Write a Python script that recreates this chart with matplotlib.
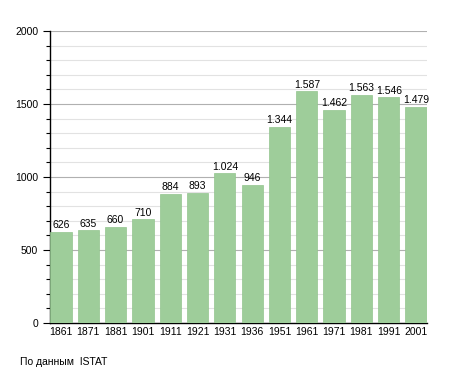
import matplotlib.pyplot as plt
from matplotlib.ticker import MultipleLocator

# Dati
anni = ['1861', '1871', '1881', '1901', '1911', '1921', '1931', '1936',
        '1951', '1961', '1971', '1981', '1991', '2001']
abitanti = [626, 635, 660, 710, 884, 893, 1024, 946,
            1344, 1587, 1462, 1563, 1546, 1479]
fonte = 'По данным  ISTAT'

plt.rcParams['font.family'] = ['Liberation Sans', 'DejaVu Sans']

fig = plt.figure(figsize=(4.55, 3.73), dpi=100)
ax = fig.add_axes([50 / 455, 50 / 373, 377 / 455, 292 / 373])

pos = list(range(len(anni)))
ax.bar(pos, abitanti, width=0.78, color='#9ecd9a', edgecolor='#92c48e',
       linewidth=0.5, zorder=3)

# etichette sopra le barre (separatore delle migliaia con il punto)
for x, v in zip(pos, abitanti):
    testo = f'{v:,}'.replace(',', '.')
    ax.text(x, v + 12, testo, ha='center', va='bottom', fontsize=7.5, zorder=4)

ax.set_xlim(-0.4, 13.4)
ax.set_ylim(0, 2000)
ax.set_xticks(pos)
ax.set_xticklabels(anni, fontsize=7.5)
ax.yaxis.set_major_locator(MultipleLocator(500))
ax.yaxis.set_minor_locator(MultipleLocator(100))
ax.tick_params(axis='y', which='major', labelsize=7.5, length=5, width=0.8)
ax.tick_params(axis='y', which='minor', length=3, width=0.8)
ax.tick_params(axis='x', length=0, pad=3)

ax.grid(axis='y', which='major', color='#b0b0b0', linewidth=0.8, zorder=0)
ax.grid(axis='y', which='minor', color='#e2e2e2', linewidth=0.8, zorder=0)

for s in ['top', 'right']:
    ax.spines[s].set_visible(False)
ax.spines['left'].set_linewidth(1)
ax.spines['bottom'].set_linewidth(1)

fig.text(20 / 455, 1 - 362 / 373, fonte, fontsize=7.5, va='center')

fig.savefig('out.png', dpi=100)
